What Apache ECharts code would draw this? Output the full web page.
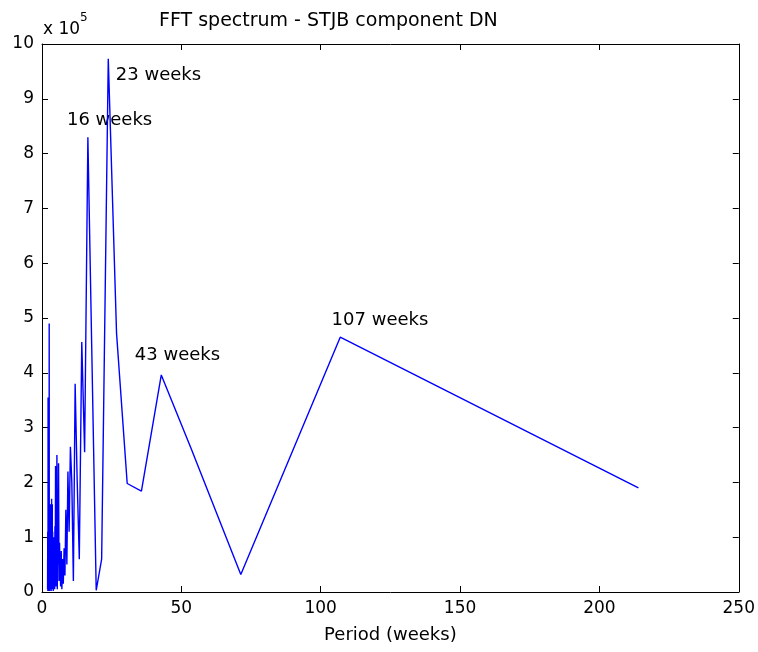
<!DOCTYPE html>
<html>
<head>
<meta charset="utf-8">
<script src="https://cdn.jsdelivr.net/npm/echarts@6/dist/echarts.min.js"></script>
<style>
  html, body { margin: 0; padding: 0; background: #fff; }
  #main { width: 758px; height: 652px; }
</style>
</head>
<body>
<div id="main"></div>
<script>
// period of each FFT bin (weeks)
const periods = [
  214, 107, 71.33, 53.5, 42.8, 35.67, 30.57, 26.75, 23.78, 21.4,
  19.45, 17.83, 16.46, 15.29, 14.27, 13.38, 12.59, 11.89, 11.26, 10.7,
  10.19, 9.73, 9.3, 8.92, 8.56, 8.23, 7.93, 7.64, 7.38, 7.13,
  6.9, 6.69, 6.48, 6.29, 6.11, 5.94, 5.78, 5.63, 5.49, 5.35,
  5.22, 5.1, 4.98, 4.86, 4.76, 4.65, 4.55, 4.46, 4.37, 4.28,
  4.2, 4.12, 4.04, 3.96, 3.89, 3.82, 3.75, 3.69, 3.63, 3.57,
  3.51, 3.45, 3.4, 3.34, 3.29, 3.24, 3.19, 3.15, 3.1, 3.06,
  3.01, 2.97, 2.93, 2.89, 2.85, 2.82, 2.78, 2.74, 2.71, 2.68,
  2.64, 2.61, 2.58, 2.55, 2.52, 2.49, 2.46, 2.43, 2.4, 2.38,
  2.35, 2.33, 2.3, 2.28, 2.25, 2.23, 2.21, 2.18, 2.16, 2.14,
  2.12, 2.1, 2.08, 2.06, 2.04, 2.02, 2.0
];
// spectrum amplitude, x 10^5
const power = [
  1.90, 4.65, 0.32, 2.62, 3.96, 1.84, 1.98, 4.72, 9.73, 0.6,
  0.03, 4.5, 8.3, 2.55, 4.56, 0.6, 2.1, 3.8, 0.2, 2.0,
  2.65, 1.1, 2.2, 0.5, 1.5, 0.3, 0.8, 0.15, 0.6, 0.05,
  0.75, 0.1, 0.45, 0.9, 0.2, 2.35, 0.5, 1.1, 0.05, 2.5,
  0.4, 0.9, 0.1, 2.3, 0.3, 1.2, 0.05, 0.7, 0.1, 1.0,
  0.3, 0.9, 0.02, 0.6, 0.2, 1.1, 0.3, 1.6, 0.05, 0.8,
  0.1, 1.7, 0.4, 1.0, 0.02, 0.7, 0.1, 1.2, 0.3, 1.6,
  0.2, 0.9, 0.05, 0.6, 1.1, 0.3, 0.8, 0.02, 1.3, 0.4,
  1.5, 0.2, 4.9, 0.5, 1.6, 0.05, 0.8, 0.3, 1.2, 0.02,
  0.6, 0.2, 1.0, 0.05, 0.5, 1.4, 0.2, 3.55, 0.3, 0.9,
  0.02, 0.7, 0.2, 1.1, 0.3, 0.6, 0.05
];
const noteText = ['23 weeks', '16 weeks', '43 weeks', '107 weeks'];
const noteX = [26.5, 8.95, 33.3, 103.9];
const noteY = [9.43, 8.61, 4.31, 4.95];

const FONT = 'DejaVu Sans';
const FS = 18;

let myChart = echarts.init(document.getElementById('main'));

const frame = {
  min: 0,
  axisLine: {show: true, onZero: false, lineStyle: {color: '#000', width: 1}},
  axisTick: {show: true, inside: true, length: 6, lineStyle: {color: '#000'}},
  splitLine: {show: false}
};

let option = {
  animation: false,
  backgroundColor: '#fff',
  textStyle: {fontFamily: FONT},
  title: {
    text: 'FFT spectrum - STJB component DN',
    left: 154,
    top: 7,
    textStyle: {fontFamily: FONT, fontSize: 19, fontWeight: 'normal', color: '#000'}
  },
  grid: {left: 42, right: 18, top: 44, bottom: 60},
  xAxis: [
    Object.assign({}, frame, {
      type: 'value', position: 'bottom', max: 250, interval: 50,
      name: 'Period (weeks)', nameLocation: 'middle', nameGap: 34,
      nameTextStyle: {fontFamily: FONT, fontSize: FS, color: '#000'},
      axisLabel: {fontFamily: FONT, fontSize: 17, color: '#000', margin: 8}
    }),
    Object.assign({}, frame, {
      type: 'value', position: 'top', max: 250, interval: 50,
      axisLabel: {show: false}
    })
  ],
  yAxis: [
    Object.assign({}, frame, {
      type: 'value', position: 'left', max: 10, interval: 1,
      axisLabel: {fontFamily: FONT, fontSize: 17, color: '#000', margin: 8}
    }),
    Object.assign({}, frame, {
      type: 'value', position: 'right', max: 10, interval: 1,
      axisLabel: {show: false}
    })
  ],
  graphic: [{
    type: 'text',
    left: 43,
    top: 12,
    style: {
      text: '{a|x 10}{b|5}',
      rich: {
        a: {fontFamily: FONT, fontSize: 17, fill: '#000', padding: [9, 0, 0, 0]},
        b: {fontFamily: FONT, fontSize: 12, fill: '#000', verticalAlign: 'top'}
      }
    }
  }],
  series: [
    {
      type: 'line',
      data: periods.map((p, i) => [p, power[i]]),
      symbol: 'none',
      lineStyle: {color: '#0000ff', width: 1.4},
      silent: true
    },
    {
      type: 'scatter',
      symbolSize: 0,
      silent: true,
      itemStyle: {opacity: 1},
      data: noteText.map((t, i) => ({value: [noteX[i], noteY[i]], name: t})),
      label: {
        show: true, position: 'right', distance: 0,
        formatter: '{b}',
        fontFamily: FONT, fontSize: FS, color: '#000', opacity: 1
      }
    }
  ]
};
myChart.setOption(option);
</script>
</body>
</html>
